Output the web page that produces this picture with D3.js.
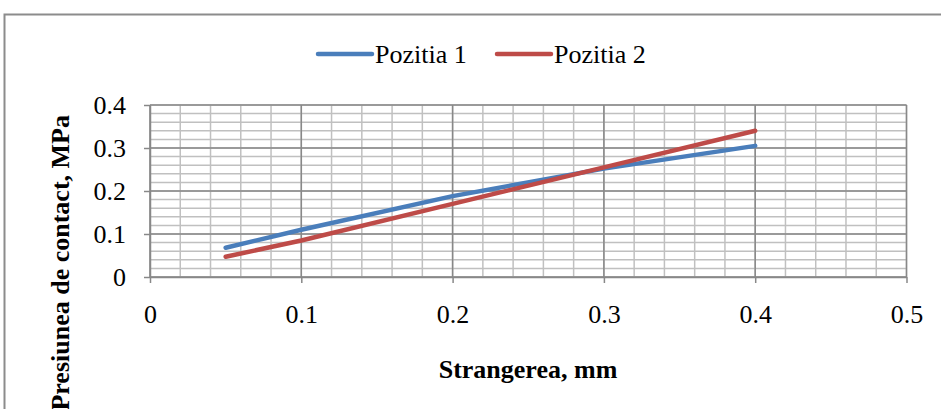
<!DOCTYPE html>
<html><head><meta charset="utf-8">
<script src="https://cdn.jsdelivr.net/npm/d3@7"></script>
<style>html,body{margin:0;padding:0;background:#fff;overflow:hidden}</style>
</head><body>
<svg id="c" width="941" height="409"></svg>
<script>
const xValues = [0.05, 0.1, 0.2, 0.3, 0.4];
const pozitia1 = [0.068, 0.110, 0.188, 0.252, 0.305];
const pozitia2 = [0.047, 0.085, 0.170, 0.255, 0.340];
const seriesNames = ["Pozitia 1", "Pozitia 2"];
const seriesColors = ["#4a7ebb", "#be4b48"];
const xTicks = [0, 0.1, 0.2, 0.3, 0.4, 0.5];
const yTicks = [0, 0.1, 0.2, 0.3, 0.4];
const xTitle = "Strangerea, mm";
const yTitle = "Presiunea de contact, MPa";

const svg = d3.select("#c");
const L = 150, R = 906.5, T = 105, B = 277;
const x = d3.scaleLinear().domain([0, 0.5]).range([L, R]);
const y = d3.scaleLinear().domain([0, 0.4]).range([B, T]);
const font = "Liberation Serif, Times New Roman, serif";

// outer border
svg.append("rect").attr("x", 4.5).attr("y", 14.5).attr("width", 960).attr("height", 420)
  .attr("fill", "none").attr("stroke", "#8c8c8c").attr("stroke-width", 2);

// minor gridlines
const minorX = d3.range(0, 0.5001, 0.02);
const minorY = d3.range(0, 0.4001, 0.02);
svg.append("g").selectAll("line").data(minorX).join("line")
  .attr("x1", d => x(d)).attr("x2", d => x(d)).attr("y1", T).attr("y2", B)
  .attr("stroke", "#c0c0c0").attr("stroke-width", 1.5);
svg.append("g").selectAll("line").data(minorY).join("line")
  .attr("x1", L).attr("x2", R).attr("y1", d => y(d)).attr("y2", d => y(d))
  .attr("stroke", "#c0c0c0").attr("stroke-width", 1.5);
// major gridlines
svg.append("g").selectAll("line").data(xTicks).join("line")
  .attr("x1", d => x(d)).attr("x2", d => x(d)).attr("y1", T).attr("y2", B)
  .attr("stroke", "#888").attr("stroke-width", 1.5);
svg.append("g").selectAll("line").data(yTicks).join("line")
  .attr("x1", L).attr("x2", R).attr("y1", d => y(d)).attr("y2", d => y(d))
  .attr("stroke", "#888").attr("stroke-width", 1.5);

// axes
const xAxis = svg.append("g").attr("transform", `translate(0,${B})`)
  .call(d3.axisBottom(x).tickValues(xTicks).tickFormat(d => d === 0 ? "0" : d3.format(".1f")(d)).tickSize(6).tickSizeOuter(0).tickPadding(22));
const yAxis = svg.append("g").attr("transform", `translate(${L},0)`)
  .call(d3.axisLeft(y).tickValues(yTicks).tickFormat(d => d === 0 ? "0" : d3.format(".1f")(d)).tickSize(6).tickSizeOuter(0).tickPadding(18));
[xAxis, yAxis].forEach(g => {
  g.select(".domain").attr("stroke", "#888").attr("stroke-width", 1.5);
  g.selectAll(".tick line").attr("stroke", "#888").attr("stroke-width", 1.5);
  g.selectAll("text").attr("font-family", font).attr("font-size", 26).attr("fill", "#000");
});

// lines
const line = d3.line().x((d, i) => x(xValues[i])).y(d => y(d));
[pozitia1, pozitia2].forEach((s, i) => {
  svg.append("path").datum(s).attr("d", line).attr("fill", "none")
    .attr("stroke", seriesColors[i]).attr("stroke-width", 4.5)
    .attr("stroke-linecap", "round").attr("stroke-linejoin", "round");
});

// legend
const legX = [318, 497];
seriesNames.forEach((n, i) => {
  svg.append("line").attr("x1", legX[i]).attr("x2", legX[i] + 54).attr("y1", 54).attr("y2", 54)
    .attr("stroke", seriesColors[i]).attr("stroke-width", 4.5).attr("stroke-linecap", "round");
  svg.append("text").attr("x", legX[i] + 57).attr("y", 63).attr("font-family", font)
    .attr("font-size", 26).attr("fill", "#000").text(n);
});

// titles
svg.append("text").attr("x", 528).attr("y", 378).attr("text-anchor", "middle")
  .attr("font-family", font).attr("font-size", 26).attr("font-weight", "bold").text(xTitle);
svg.append("text").attr("transform", "translate(69,115) rotate(-90)").attr("text-anchor", "end")
  .attr("font-family", font).attr("font-size", 26).attr("font-weight", "bold").text(yTitle);
</script>
</body></html>
